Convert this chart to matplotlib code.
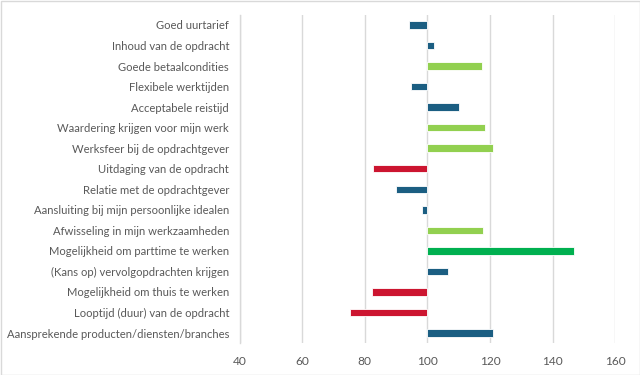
import matplotlib
matplotlib.use("Agg")
import matplotlib.pyplot as plt
from matplotlib.patches import Rectangle

categories = [
    "Goed uurtarief",
    "Inhoud van de opdracht",
    "Goede betaalcondities",
    "Flexibele werktijden",
    "Acceptabele reistijd",
    "Waardering krijgen voor mijn werk",
    "Werksfeer bij de opdrachtgever",
    "Uitdaging van de opdracht",
    "Relatie met de opdrachtgever",
    "Aansluiting bij mijn persoonlijke idealen",
    "Afwisseling in mijn werkzaamheden",
    "Mogelijkheid om parttime te werken",
    "(Kans op) vervolgopdrachten krijgen",
    "Mogelijkheid om thuis te werken",
    "Looptijd (duur) van de opdracht",
    "Aansprekende producten/diensten/branches",
]
values = [94.2, 102.1, 117.4, 94.8, 110.1, 118.5, 120.9, 82.7, 90.0,
          98.4, 117.8, 146.8, 106.7, 82.2, 75.2, 121.0]
bar_colors = ["#1B5E82", "#1B5E82", "#92D050", "#1B5E82", "#1B5E82", "#92D050",
              "#92D050", "#CC1530", "#1B5E82", "#1B5E82", "#92D050", "#00B050",
              "#1B5E82", "#CC1530", "#CC1530", "#1B5E82"]
xticks = [40, 60, 80, 100, 120, 140, 160]
baseline = 100

plt.rcParams['font.family'] = ['Lato', 'DejaVu Sans']

fig = plt.figure(figsize=(6.4, 3.75), dpi=100)
ax = fig.add_axes([239.5 / 640, 1 - 343.3 / 375, (615.3 - 239.5) / 640, (343.3 - 14.7) / 375])

y = list(range(len(categories)))
widths = [v - baseline for v in values]
ax.barh(y, widths, left=baseline, height=0.36, color=bar_colors,
        edgecolor="white", linewidth=0.6, zorder=3)

ax.set_xlim(40, 160)
ax.set_ylim(len(categories) - 0.5, -0.5)
ax.set_xticks(xticks)
ax.set_yticks(y)
ax.set_yticklabels(categories)
ax.tick_params(axis='both', length=0, colors="#595959")
ax.tick_params(axis='y', pad=7.5, labelsize=8.1)
ax.tick_params(axis='x', pad=9, labelsize=8.6)
ax.grid(axis='x', color="#D9D9D9", linewidth=1, zorder=0)
for s in ["top", "right", "bottom"]:
    ax.spines[s].set_visible(False)
ax.spines["left"].set_color("#D9D9D9")
ax.spines["left"].set_linewidth(1)

fig.patches.append(Rectangle((0.5 / 640, 0.5 / 375), 639 / 640, 374 / 375,
                             transform=fig.transFigure, fill=False,
                             edgecolor="#D9D9D9", linewidth=1))

fig.savefig("out.png", dpi=100)
